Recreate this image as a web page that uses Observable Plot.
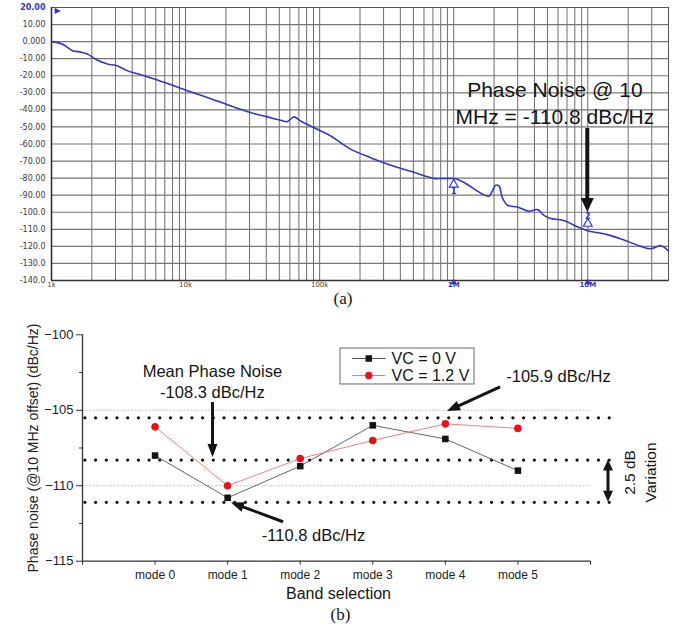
<!DOCTYPE html>
<html>
<head>
<meta charset="utf-8">
<script src="https://cdn.jsdelivr.net/npm/d3@7"></script>
<script src="https://cdn.jsdelivr.net/npm/@observablehq/plot@0.6"></script>
<style>
  html, body { margin: 0; padding: 0; background: #fff; }
  #figure { position: relative; width: 684px; height: 627px; overflow: hidden; background: #fff; }
  #figure > svg { position: absolute; left: 0; }
</style>
</head>
<body>
<div id="figure"></div>
<script>
// ---- (a) measured phase-noise spectrum: offset frequency (Hz) vs dBc/Hz ----
const offsetHz = [1000, 1200, 1430, 1600, 1850, 2190, 2610, 3090, 3670, 4620, 6150, 8180,
  10300, 14500, 20500, 25700, 30500, 40700, 51200, 57400, 64300, 72100, 96100, 121000,
  170000, 240000, 339000, 478000, 713000, 800000, 977000, 1035000, 1265000, 1500000,
  1830000, 1940000, 2060000, 2180000, 2310000, 2520000, 2990000, 3650000, 4210000,
  4720000, 5300000, 6110000, 6860000, 7910000, 10000000, 14000000, 18200000, 24900000,
  29500000, 35100000, 40000000];
const phaseNoise = [0, -1.4, -5.3, -5.9, -7.3, -10.8, -13.1, -14.1, -17, -19.4, -22.5, -25.9,
  -28.8, -32.7, -37, -39.6, -41.6, -44.1, -46.1, -46.9, -44.1, -46.5, -51.4, -55.3,
  -63, -68, -72.4, -76, -80.2, -80.2, -80.2, -80.4, -83.7, -87.6,
  -90.6, -87.6, -84.1, -84.7, -91.6, -95.9, -96.9, -99.4, -98.4,
  -101.8, -103.7, -104.3, -105.3, -107.6, -110.8, -113.1, -116, -120,
  -121.4, -119.6, -122.6];
const decadeHz = [1e3, 1e4, 1e5, 1e6, 1e7];
const decadeLabels = ["1k", "10k", "100k", "1M", "10M"];
const levelTicks = [20, 10, 0, -10, -20, -30, -40, -50, -60, -70, -80, -90, -100, -110, -120, -130, -140];
const markerHz = [1e6, 1e7];
const markerNames = ["1", "2"];
const markerDb = [-80.2, -110.8];

// ---- (b) phase noise at 10 MHz offset for each band ----
const modes = ["mode 0", "mode 1", "mode 2", "mode 3", "mode 4", "mode 5"];
const vc0 = [-108.0, -110.8, -108.7, -106.0, -106.9, -109.0];
const vc12 = [-106.1, -110.0, -108.2, -107.0, -105.9, -106.2];
const seriesNames = ["VC = 0 V", "VC = 1.2 V"];
const meanNoise = -108.3;
const variationLabel = "2.5 dB\nVariation";
const bandLevels = [-105.5, -108.3, -111.1];
const yTicksB = [-100, -105, -110, -115];
const yMinorB = [-102.5, -107.5, -112.5];

const blue = "#3535c6";
const ink = "#141414";
const sans = "'Liberation Sans', Arial, sans-serif";
const serif = "'Liberation Serif', 'Times New Roman', serif";

// filled-head arrows placed in data units through the chart's own scales
function drawArrows(chart, arrows) {
  const sx = chart.scale("x"), sy = chart.scale("y");
  const g = d3.select(chart).append("g");
  for (const a of arrows) {
    const x1 = sx.apply(a.from[0]), y1 = sy.apply(a.from[1]);
    const x2 = sx.apply(a.to[0]), y2 = sy.apply(a.to[1]);
    const ang = Math.atan2(y2 - y1, x2 - x1), c = Math.cos(ang), s = Math.sin(ang);
    const L = a.head, W = a.headWidth;
    const headAt = (tx, ty, cc, ss) => {
      const bx = tx - L * cc, by = ty - L * ss;
      g.append("polygon")
        .attr("points", [[tx, ty], [bx - W / 2 * ss, by + W / 2 * cc], [bx + W / 2 * ss, by - W / 2 * cc]].map(p => p.join(",")).join(" "))
        .attr("fill", ink);
    };
    let sx1 = x1, sy1 = y1;
    const sx2 = x2 - (L - 1) * c, sy2 = y2 - (L - 1) * s;
    if (a.both) { headAt(x1, y1, -c, -s); sx1 = x1 + (L - 1) * c; sy1 = y1 + (L - 1) * s; }
    g.append("line").attr("x1", sx1).attr("y1", sy1).attr("x2", sx2).attr("y2", sy2)
      .attr("stroke", ink).attr("stroke-width", a.width);
    headAt(x2, y2, c, s);
  }
}

// ---------------- chart (a) ----------------
const gridHz = d3.range(3, 8).flatMap(e => d3.range(1, 10).map(m => m * 10 ** e)).filter(f => f <= 4e7);
const spectrum = offsetHz.map((f, i) => ({f, db: phaseNoise[i]}));
const fmtLevel = d => d3.format(".4r")(d).replace("\u2212", "-");
const decadeLabel = d => decadeLabels[decadeHz.indexOf(d)];
const noteA = `Phase Noise @ 10\nMHz = ${markerDb[1]} dBc/Hz`;

const chartA = Plot.plot({
  width: 684, height: 310,
  marginLeft: 51, marginRight: 16, marginTop: 7, marginBottom: 30,
  style: {fontFamily: "'DejaVu Sans', Verdana, sans-serif", background: "transparent", color: "#333"},
  x: {type: "log", domain: [1e3, 4e7], label: null},
  y: {domain: [-140, 20], label: null},
  marks: [
    Plot.ruleX(gridHz, {stroke: "#6c6c6c", strokeWidth: 1}),
    Plot.ruleY(levelTicks, {stroke: "#767676", strokeWidth: 1.2}),
    Plot.frame({stroke: "#555", strokeWidth: 1}),
    Plot.ruleX([offsetHz[0]], {stroke: "#333", strokeWidth: 1.6}),
    Plot.ruleY([levelTicks[levelTicks.length - 1]], {stroke: "#333", strokeWidth: 1.4}),
    Plot.axisY({ticks: levelTicks.slice(1), tickSize: 0, tickPadding: 6, tickFormat: fmtLevel, fontSize: 8, fill: "#3a3a3a"}),
    Plot.axisY({ticks: levelTicks.slice(0, 1), tickSize: 0, tickPadding: 6, tickFormat: fmtLevel, fontSize: 8, fill: blue, fontWeight: "bold"}),
    Plot.text(["\u25B6"], {frameAnchor: "top-left", dx: 3, fontSize: 8, fill: blue}),
    Plot.axisX({ticks: decadeHz.slice(0, 3), tickSize: 0, tickPadding: 2, tickFormat: decadeLabel, fontSize: 7, fill: "#444"}),
    Plot.axisX({ticks: decadeHz.slice(3), tickSize: 0, tickPadding: 2, tickFormat: decadeLabel, fontSize: 7, fill: blue, fontWeight: "bold"}),
    Plot.dot(markerHz, {x: d => d, y: levelTicks[levelTicks.length - 1], symbol: "triangle", r: 2.4, fill: blue, dy: 2}),
    Plot.line(spectrum, {x: "f", y: "db", stroke: blue, strokeWidth: 1.6, curve: "catmull-rom"}),
    Plot.dot([0], {x: d => markerHz[d], y: d => markerDb[d], symbol: "triangle", r: 3.3, stroke: blue, fill: "white", strokeWidth: 1.2, dy: 6}),
    Plot.text([0], {x: d => markerHz[d], y: d => markerDb[d], text: d => markerNames[d], dy: 13, fontSize: 8, fill: blue, fontWeight: "bold"}),
    Plot.dot([1], {x: d => markerHz[d], y: d => markerDb[d], symbol: "triangle", r: 3.3, stroke: blue, fill: "white", strokeWidth: 1.2, dy: -7}),
    Plot.text([1], {x: d => markerHz[d], y: d => markerDb[d], text: d => markerNames[d], dy: -14, fontSize: 8, fill: blue, fontWeight: "bold"}),
    Plot.text([noteA], {x: 5.68e6, y: -35.3, text: d => d, fontFamily: sans, fontSize: 21, lineHeight: 1.27, fill: ink}),
    Plot.text(["(a)"], {frameAnchor: "bottom", dx: -17, dy: 18, lineAnchor: "middle", fontFamily: serif, fontSize: 17, fill: ink})
  ]
});
chartA.style.top = "0px";
drawArrows(chartA, [{from: [1e7, -50.9], to: [1e7, -100.1], width: 4, head: 14, headWidth: 13}]);

// ---------------- chart (b) ----------------
const pts0 = modes.map((m, i) => ({i, v: vc0[i]}));
const pts12 = modes.map((m, i) => ({i, v: vc12[i]}));
const legendBox = {x1: 2.555, x2: 4.402, y1: -100.91, y2: -103.29};
const legendRowY = [-101.57, -102.70];
const legendSample = [2.716, 3.175];
const legendMarkX = 2.945;
const legendTextX = 3.258;
const bandSpan = [-0.96, 6.28];
const legendRows = [
  {y: legendRowY[0], name: seriesNames[0], stroke: "#555", fill: ink, symbol: "square"},
  {y: legendRowY[1], name: seriesNames[1], stroke: "#e77474", fill: "#e4141c", symbol: "circle"}
];

const chartB = Plot.plot({
  width: 684, height: 317,
  marginLeft: 82, marginRight: 94, marginTop: 24.3, marginBottom: 66.3,
  style: {fontFamily: sans, background: "transparent", color: "#222"},
  x: {domain: [-1, modes.length], label: null},
  y: {domain: [-115, -100], label: null},
  marks: [
    Plot.ruleY([-105, -110], {stroke: "#c4c4c4", strokeWidth: 1, strokeDasharray: "2,1.5"}),
    Plot.ruleY(bandLevels, {x1: bandSpan[0], x2: bandSpan[1], stroke: ink, strokeWidth: 3.3, strokeDasharray: "0,10.7", strokeLinecap: "round"}),
    Plot.ruleX([-1], {stroke: "#333", strokeWidth: 1.3}),
    Plot.ruleY([-115], {stroke: "#333", strokeWidth: 1.3}),
    Plot.axisY({ticks: yTicksB, tickSize: 6, tickPadding: 3, fontSize: 13, fill: "#222", stroke: "#333"}),
    Plot.axisY({ticks: yMinorB, tickSize: 3, tickFormat: () => "", stroke: "#333"}),
    Plot.axisX({ticks: d3.range(-1, modes.length + 1), tickSize: 4, tickPadding: 5, tickFormat: d => modes[d] ?? "", fontSize: 12, fill: "#222", stroke: "#333"}),
    Plot.line(pts0, {x: "i", y: "v", stroke: "#555", strokeWidth: 0.9}),
    Plot.line(pts12, {x: "i", y: "v", stroke: "#e77474", strokeWidth: 0.9}),
    Plot.dot(pts0, {x: "i", y: "v", symbol: "square", r: 3.7, fill: ink}),
    Plot.dot(pts12, {x: "i", y: "v", symbol: "circle", r: 3.8, fill: "#e4141c"}),
    // legend
    Plot.rect([legendBox], {x1: "x1", x2: "x2", y1: "y1", y2: "y2", fill: "white", stroke: "#808080", strokeWidth: 1.2}),
    Plot.link(legendRows, {x1: legendSample[0], x2: legendSample[1], y1: "y", y2: "y", stroke: "stroke", strokeWidth: 1}),
    Plot.dot(legendRows, {x: legendMarkX, y: "y", symbol: "symbol", fill: "fill", r: 3.7}),
    Plot.text(legendRows, {x: legendTextX, y: "y", text: "name", textAnchor: "start", fontSize: 16, fill: ink}),
    // annotations
    Plot.text([`Mean Phase Noise\n${meanNoise} dBc/Hz`], {x: 0.79, y: -103.06, text: d => d, fontSize: 16.5, lineHeight: 1.27, fill: ink}),
    Plot.text([`${vc12[4]} dBc/Hz`], {x: 5.559, y: -102.81, text: d => d, fontSize: 16.5, fill: ink}),
    Plot.text([`${vc0[1]} dBc/Hz`], {x: 2.183, y: -113.3, text: d => d, fontSize: 16.5, fill: ink}),
    Plot.text([variationLabel], {x: 6.66, y: -109.12, text: d => d, rotate: -90, fontSize: 15.5, lineHeight: 1.4, fill: ink}),
    // axis titles and caption
    Plot.text(["Phase noise (@10 MHz offset) (dBc/Hz)"], {frameAnchor: "left", dx: -49, rotate: -90, textAnchor: "middle", fontSize: 14, fill: "#222"}),
    Plot.text(["Band selection"], {frameAnchor: "bottom", dx: 2, dy: 32.3, lineAnchor: "middle", fontSize: 16, fill: ink}),
    Plot.text(["(b)"], {frameAnchor: "bottom", dx: 4, dy: 53.3, lineAnchor: "middle", fontFamily: serif, fontSize: 17, fill: ink})
  ]
});
chartB.style.top = "310px";
drawArrows(chartB, [
  {from: [0.798, -104.49], to: [0.798, -108.13], width: 3, head: 13, headWidth: 10},
  {from: [4.760, -103.49], to: [4.030, -105.08], width: 3, head: 13, headWidth: 10},
  {from: [1.770, -112.42], to: [1.053, -111.14], width: 3, head: 13, headWidth: 10},
  {from: [6.248, meanNoise], to: [6.248, bandLevels[2]], width: 3, head: 11, headWidth: 10, both: true}
]);

const fig = document.getElementById("figure");
fig.appendChild(chartA);
fig.appendChild(chartB);
</script>
</body>
</html>
